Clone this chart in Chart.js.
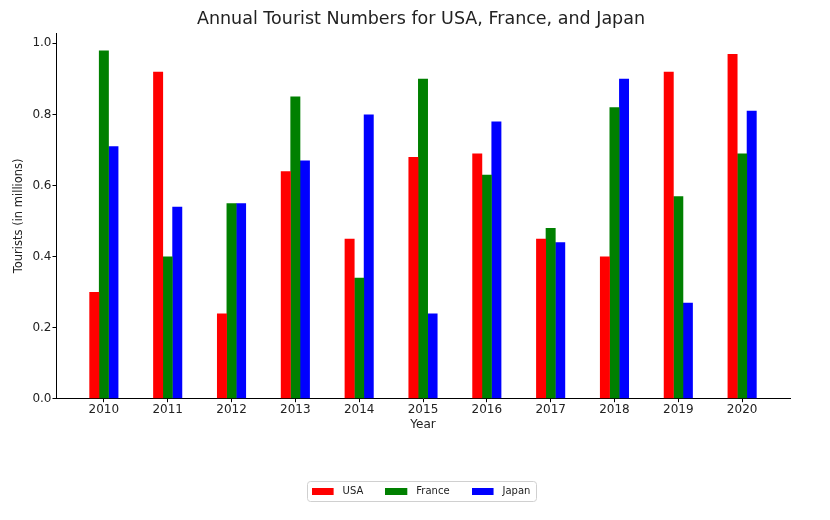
<!DOCTYPE html>
<html>
<head>
<meta charset="utf-8">
<script src="https://cdn.jsdelivr.net/npm/chart.js@4.4.1/dist/chart.umd.min.js"></script>
<style>
  html, body { margin: 0; padding: 0; background: #fff; }
  #wrap { width: 830px; height: 520px; position: relative; }
</style>
</head>
<body>
<div id="wrap"><canvas id="chart" width="830" height="520"></canvas></div>
<script>
/* --- data --- */
const years = ['2010', '2011', '2012', '2013', '2014', '2015', '2016', '2017', '2018', '2019', '2020'];
const usa    = [0.30, 0.92, 0.24, 0.64, 0.45, 0.68, 0.69, 0.45, 0.40, 0.92, 0.97];
const france = [0.98, 0.40, 0.55, 0.85, 0.34, 0.90, 0.63, 0.48, 0.82, 0.57, 0.69];
const japan  = [0.71, 0.54, 0.55, 0.67, 0.80, 0.24, 0.78, 0.44, 0.90, 0.27, 0.81];
const yTicks = [0.0, 0.2, 0.4, 0.6, 0.8, 1.0];
const colors = ['#ff0000', '#008000', '#0000ff'];

const FONT = "'DejaVu Sans', sans-serif";
const TXT = '#222';

// puts each value at its year index on a linear x axis
const pts = arr => arr.map((v, i) => ({ x: i, y: v }));

// legend swatch: 22px patch plus a little empty space before the text
function swatch(color) {
    const c = document.createElement('canvas');
    c.width = 26; c.height = 7;
    const g = c.getContext('2d');
    g.fillStyle = color;
    g.fillRect(0, 0, 22, 7);
    return c;
}
const swatches = colors.map(swatch);

// light frame round the legend, like matplotlib
const legendFrame = {
    id: 'legendFrame',
    afterDraw(chart) {
        const boxes = chart.legend && chart.legend.legendHitBoxes;
        if (!boxes || !boxes.length) return;
        let l = Infinity, r = -Infinity, t = Infinity, b = -Infinity;
        boxes.forEach(h => {
            l = Math.min(l, h.left); r = Math.max(r, h.left + h.width);
            t = Math.min(t, h.top); b = Math.max(b, h.top + h.height);
        });
        const ctx = chart.ctx;
        ctx.save();
        ctx.strokeStyle = '#d0d0d0';
        ctx.lineWidth = 1;
        ctx.beginPath();
        ctx.roundRect(Math.round(l - 5) + 0.5, Math.round(t - 5) + 0.5, Math.round(r - l + 10), Math.round(b - t + 10), 3);
        ctx.stroke();
        ctx.restore();
    }
};

new Chart(document.getElementById('chart'), {
    type: 'bar',
    data: {
        datasets: [
            { label: 'USA', data: pts(usa), backgroundColor: colors[0], borderWidth: 0 },
            { label: 'France', data: pts(france), backgroundColor: colors[1], borderWidth: 0 },
            { label: 'Japan', data: pts(japan), backgroundColor: colors[2], borderWidth: 0 }
        ]
    },
    options: {
        animation: false,
        responsive: false,
        events: [],
        categoryPercentage: 0.45,
        barPercentage: 1.04, // tiny overlap hides the seams between bars
        layout: { padding: { left: 12, right: 0, top: 0, bottom: 14 } },
        plugins: {
            title: {
                display: true,
                text: 'Annual Tourist Numbers for USA, France, and Japan',
                color: TXT,
                font: { family: FONT, size: 17.5, weight: 'normal' },
                padding: { top: 9, bottom: 3 }
            },
            legend: {
                position: 'bottom',
                labels: {
                    usePointStyle: true,
                    pointStyleWidth: 26,
                    boxHeight: 8,
                    padding: 22,
                    color: TXT,
                    font: { family: FONT, size: 10 },
                    generateLabels: chart => {
                        const items = Chart.defaults.plugins.legend.labels.generateLabels(chart);
                        items.forEach((it, i) => { it.pointStyle = swatches[i]; });
                        return items;
                    }
                }
            },
            tooltip: { enabled: false }
        },
        scales: {
            x: {
                type: 'linear',
                min: -0.75,
                max: 10.75,
                offset: false,
                grid: { display: true, offset: false, drawOnChartArea: false, drawTicks: true, tickLength: 3.5, color: '#000' },
                border: { display: true, color: '#000', width: 1 },
                ticks: {
                    stepSize: 1,
                    includeBounds: false,
                    autoSkip: false,
                    maxRotation: 0,
                    padding: 0,
                    color: TXT,
                    font: { family: FONT, size: 12 },
                    callback: v => (Number.isInteger(v) && years[v]) ? years[v] : ''
                },
                title: {
                    display: true,
                    text: 'Year',
                    color: TXT,
                    font: { family: FONT, size: 12 },
                    padding: { top: 1, bottom: 32 }
                }
            },
            y: {
                type: 'linear',
                min: 0,
                max: 1.029,
                grid: { display: true, drawOnChartArea: false, drawTicks: true, tickLength: 3.5, color: '#000' },
                border: { display: true, color: '#000', width: 1 },
                ticks: {
                    stepSize: 0.2,
                    includeBounds: false,
                    padding: 1,
                    color: TXT,
                    font: { family: FONT, size: 12 },
                    callback: v => yTicks.some(t => Math.abs(t - v) < 1e-6) ? v.toFixed(1) : ''
                },
                title: {
                    display: true,
                    text: 'Tourists (in millions)',
                    color: TXT,
                    font: { family: FONT, size: 11.5 },
                    padding: 0
                },
                afterFit: s => { s.width = 44; }
            },
            // empty right-hand axis, only keeps the right margin
            yR: {
                type: 'linear',
                position: 'right',
                display: true,
                grid: { display: false },
                border: { display: false },
                ticks: { display: false },
                afterFit: s => { s.width = 40; }
            }
        }
    },
    plugins: [legendFrame]
});
</script>
</body>
</html>
